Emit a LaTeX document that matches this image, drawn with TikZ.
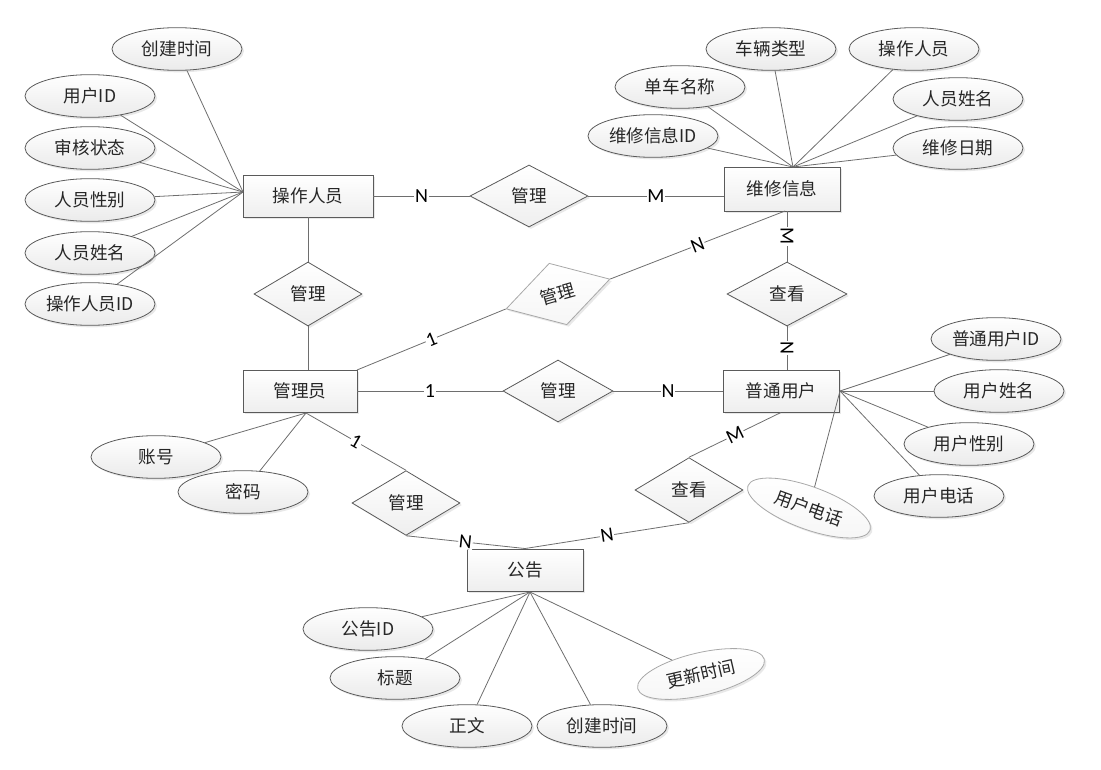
\documentclass[tikz,border=0pt]{standalone}
\usepackage{fontspec}
\setmainfont{Noto Sans CJK SC}
\newfontfamily\latinlab{Carlito}
\usetikzlibrary{shapes.geometric,shadows}
\definecolor{linegray}{HTML}{6E6E6E}
\definecolor{boxgray}{HTML}{5A5A5A}
\definecolor{lightedge}{HTML}{A8A8A8}
\begin{document}
\begin{tikzpicture}[x=0.75pt,y=-0.75pt,
  conn/.style={draw=linegray, line width=0.6pt},
  shade/.style={drop shadow={opacity=0.18,shadow xshift=1.5pt,shadow yshift=-1.5pt}},
  txt/.style={font=\fontsize{13.2}{15}\selectfont, text=black!85},
  ent/.style={txt, rectangle, draw=boxgray, line width=0.7pt, top color=white, bottom color=gray!13, shade, minimum width=87pt, minimum height=31.5pt, inner sep=0pt},
  rel/.style={txt, diamond, aspect=1, inner sep=0pt, draw=boxgray, line width=0.6pt, top color=white, bottom color=gray!13, shade},
  attr/.style={txt, ellipse, draw=boxgray, line width=0.6pt, top color=white, bottom color=gray!16, shade, minimum width=97.5pt, minimum height=32pt, inner sep=0pt},
  faint/.style={draw=lightedge, top color=white, bottom color=gray!7},
  lab/.style={fill=white, inner sep=0.6pt, font=\latinlab\fontsize{15}{15}\selectfont},
]
\useasboundingbox (0,0) rectangle (1101,770);

% entities
\node[ent, minimum width=97.5pt] (e1) at (308,196) {操作人员};
\node[ent, minimum height=33pt] (e2) at (782,189) {维修信息};
\node[ent, minimum width=85.5pt] (e3) at (300,391) {管理员};
\node[ent] (e4) at (781,391) {普通用户};
\node[ent] (e5) at (525,570) {公告};

% relationships
\node[rel, minimum width=88.5pt, minimum height=46.5pt] (r1) at (529,196) {管理};
\node[rel, minimum width=81pt, minimum height=48pt] (r2) at (308,294) {管理};
\node[rel, faint, rotate=16, minimum width=81pt, minimum height=48pt] (r3) at (558,294) {管理};
\node[rel, minimum width=90pt, minimum height=48pt] (r4) at (787,294) {查看};
\node[rel, minimum width=82.5pt, minimum height=46.5pt] (r5) at (558,391) {管理};
\node[rel, minimum width=81pt, minimum height=48.5pt] (r6) at (406,503) {管理};
\node[rel, minimum width=81pt, minimum height=48.5pt] (r7) at (689,490) {查看};

% attributes of 操作人员
\node[attr] (a11) at (177,49) {创建时间};
\node[attr] (a12) at (90,96) {用户ID};
\node[attr] (a13) at (90,148) {审核状态};
\node[attr] (a14) at (90,200) {人员性别};
\node[attr] (a15) at (90,253) {人员姓名};
\node[attr] (a16) at (90,304) {操作人员ID};
% attributes of 维修信息
\node[attr] (a21) at (680,87) {单车名称};
\node[attr] (a22) at (771,49) {车辆类型};
\node[attr] (a23) at (914,49) {操作人员};
\node[attr] (a24) at (958,99) {人员姓名};
\node[attr] (a25) at (653,136) {维修信息ID};
\node[attr] (a26) at (958,148) {维修日期};
% attributes of 普通用户
\node[attr] (a41) at (996,339) {普通用户ID};
\node[attr] (a42) at (999,391) {用户姓名};
\node[attr] (a43) at (969,444) {用户性别};
\node[attr] (a44) at (939,496) {用户电话};
\node[attr, faint, rotate=-20] (a45) at (809,508) {用户电话};
% attributes of 管理员
\node[attr] (a31) at (156,457) {账号};
\node[attr] (a32) at (243,492) {密码};
% attributes of 公告
\node[attr] (a51) at (368,629) {公告ID};
\node[attr] (a52) at (395,678) {标题};
\node[attr] (a53) at (467,726) {正文};
\node[attr] (a54) at (602,726) {创建时间};
\node[attr, faint, rotate=13] (a55) at (701,674) {更新时间};

% convergence points
\coordinate (c1) at (243,192);
\coordinate (c2) at (793,167);
\coordinate (c3) at (306,413);
\coordinate (c4) at (840,391);
\coordinate (c5) at (530,592);
\coordinate (c6) at (357,370);
\coordinate (c7) at (785,211);

% attribute lines
\foreach \a in {a11,a12,a13,a14,a15,a16} \draw[conn] (\a) -- (c1);
\foreach \a in {a21,a22,a23,a24,a25,a26} \draw[conn] (\a) -- (c2);
\foreach \a in {a41,a42,a43,a44,a45} \draw[conn] (\a) -- (c4);
\foreach \a in {a31,a32} \draw[conn] (\a) -- (c3);
\foreach \a in {a51,a52,a53,a54,a55} \draw[conn] (\a) -- (c5);

% relationship lines
\draw[conn] (e1.east) -- node[lab]{N} (r1.west);
\draw[conn] (r1.east) -- node[lab]{M} (r1.east -| e2.west);
\draw[conn] (e1.south) -- (r2.north);
\draw[conn] (r2.south) -- (r2.south |- e3.north);
\draw[conn] (c6) -- node[lab, sloped]{1} (r3.west);
\draw[conn] (r3.east) -- node[lab, sloped]{N} (c7);
\draw[conn] (r4.north |- e2.south) -- node[lab, rotate=-90]{M} (r4.north);
\draw[conn] (r4.south) -- node[lab, rotate=-90]{N} (r4.south |- e4.north);
\draw[conn] (e3.east) -- node[lab]{1} (r5.west);
\draw[conn] (r5.east) -- node[lab]{N} (e4.west);
\draw[conn] (c3) -- node[lab, sloped]{1} (r6.north);
\draw[conn] (r6.south) -- node[lab, sloped]{N} (e5.north);
\draw[conn] (e4.south) -- node[lab, sloped]{M} (r7.north);
\draw[conn] (r7.south) -- node[lab, sloped]{N} (e5.north);
\end{tikzpicture}
\end{document}
